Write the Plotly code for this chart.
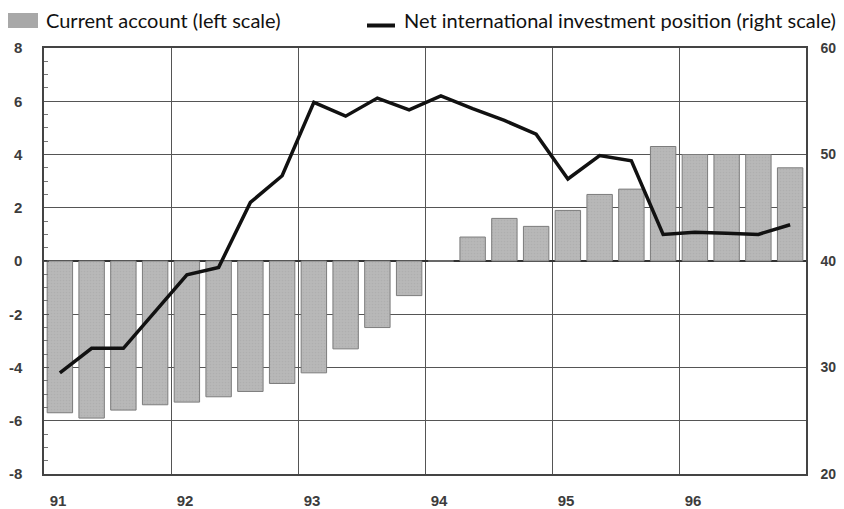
import plotly.graph_objects as go
import numpy as np

# ---- data ----
quarters = [f"{y}Q{q}" for y in range(91, 97) for q in range(1, 5)]
current_account = [-5.7, -5.9, -5.6, -5.4, -5.3, -5.1, -4.9, -4.6,
                   -4.2, -3.3, -2.5, -1.3, 0.0, 0.9, 1.6, 1.3,
                   1.9, 2.5, 2.7, 4.3, 4.0, 4.0, 4.0, 3.5]
niip = [29.5, 31.8, 31.8, 35.2, 38.7, 39.4, 45.5, 48.0,
        54.9, 53.6, 55.3, 54.2, 55.5, 54.3, 53.2, 51.9,
        47.7, 49.9, 49.4, 42.5, 42.7, 42.6, 42.5, 43.4]
year_labels = ["91", "92", "93", "94", "95", "96"]
left_ticks = [-8, -6, -4, -2, 0, 2, 4, 6, 8]
left_tick_labels = ["-8", "-6", "-4", "-2", "0", "2", "4", "6", "8"]
right_ticks = [20, 30, 40, 50, 60]
right_tick_labels = ["20", "30", "40", "50", "60"]

x = np.arange(len(quarters))
year_starts = x[::4] - 0.5

GRID = "#555555"
TICKFONT = dict(family="Liberation Sans, Arial, sans-serif", size=15, color="#3c3c3c", weight="bold")
RTICKFONT = dict(family="Liberation Sans, Arial, sans-serif", size=14, color="#3c3c3c", weight="bold")

# page body has an 8px margin, so the figure is sized/offset accordingly
FIG_W, FIG_H = 836, 501
ML, MR, MT, MB = 36, 38, 40, 35
W = FIG_W - ML - MR
H = FIG_H - MT - MB

fig = go.Figure()
fig.add_trace(go.Bar(
    x=x, y=current_account, width=0.8,
    marker=dict(color="#b8b8b8", line=dict(color="#7c7c7c", width=1),
                pattern=dict(shape=".", fgcolor="#a6a6a6", size=3, solidity=0.25)),
    name="Current account (left scale)", showlegend=False,
))
fig.add_trace(go.Scatter(
    x=x, y=niip, yaxis="y2", mode="lines",
    line=dict(color="#111111", width=3.5),
    name="Net international investment position (right scale)", showlegend=False,
))

fig.update_layout(
    width=FIG_W, height=FIG_H,
    margin=dict(l=ML, r=MR, t=MT, b=MB, pad=0, autoexpand=False),
    paper_bgcolor="white", plot_bgcolor="white",
    bargap=0.2,
    xaxis=dict(
        range=[-0.5, len(quarters) - 0.5], automargin=False,
        tickvals=year_starts, ticktext=year_labels,
        ticklabelshift=14, ticklabelstandoff=12,
        showgrid=True, gridcolor=GRID, gridwidth=1.2,
        showline=True, linecolor="#444444", linewidth=1.5, mirror=True,
        ticks="", tickfont=TICKFONT, zeroline=False,
    ),
    yaxis=dict(
        range=[-8, 8], tickvals=left_ticks, ticktext=left_tick_labels, automargin=False,
        showgrid=True, gridcolor=GRID, gridwidth=1.2,
        zeroline=True, zerolinecolor="#333333", zerolinewidth=1.5,
        showline=True, linecolor="#444444", linewidth=1.5,
        ticks="inside", ticklen=5, tickcolor="#555555",
        minor=dict(dtick=0.5, ticks="inside", ticklen=4, tickcolor="#777777", showgrid=False),
        ticklabelstandoff=17, tickfont=TICKFONT,
    ),
    yaxis2=dict(
        range=[20, 60], tickvals=right_ticks, ticktext=right_tick_labels, automargin=False,
        overlaying="y", side="right", showgrid=False, zeroline=False,
        showline=True, linecolor="#444444", linewidth=1.5,
        ticks="", ticklabelstandoff=10, tickfont=RTICKFONT,
    ),
    showlegend=False,
)

# custom legend (top), positions in figure pixels converted to paper coords
def px(xp):
    return (xp - ML) / W

def py(yp):
    return 1 + (MT - yp) / H

LEGFONT = dict(family="Lato, Open Sans, sans-serif", size=20, color="#111111")
fig.add_shape(type="rect", xref="paper", yref="paper",
              x0=px(0), x1=px(30), y0=py(20), y1=py(5),
              fillcolor="#a8a8a8", line=dict(width=0))
fig.add_annotation(xref="paper", yref="paper", x=px(36), y=py(12.5),
                   text="Current account (left scale)", showarrow=False,
                   xanchor="left", yanchor="middle", font=LEGFONT)
fig.add_shape(type="line", xref="paper", yref="paper",
              x0=px(359), x1=px(387), y0=py(17.5), y1=py(17.5),
              line=dict(color="#111111", width=4))
fig.add_annotation(xref="paper", yref="paper", x=px(394), y=py(12.5),
                   text="Net international investment position (right scale)", showarrow=False,
                   xanchor="left", yanchor="middle", font=LEGFONT)

fig.write_html("out.html")
